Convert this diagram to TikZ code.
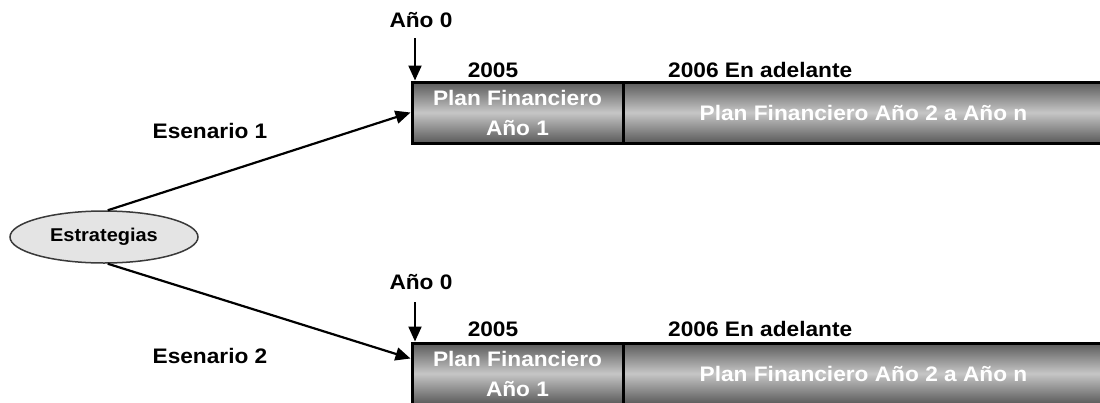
\documentclass[tikz,border=0pt]{standalone}
\usepackage{fontspec}
\newfontfamily\labfont[FakeStretch=1.08]{Liberation Sans}
\usetikzlibrary{arrows.meta,shapes.geometric}
\definecolor{bardark}{HTML}{5A5A5A}
\definecolor{barlight}{HTML}{C6C6C6}
\definecolor{ovalfill}{HTML}{E4E4E4}
\definecolor{ovalline}{HTML}{3A3A3A}
\begin{document}
\begin{tikzpicture}[x=1pt,y=-1pt,
  lab/.style={font=\labfont\bfseries\fontsize{21}{24}\selectfont, text=black, inner sep=0pt},
  bar/.style={draw=black, line width=3pt, rectangle, inner sep=0pt,
    top color=bardark, bottom color=bardark, middle color=barlight,
    text=white, align=center,
    font=\labfont\bfseries\fontsize{21}{30}\selectfont},
  link/.style={line width=2.2pt, -{Triangle[length=15pt,width=13pt]}},
  oval/.style={ellipse, draw=ovalline, line width=1.5pt, fill=ovalfill,
    minimum width=188pt, minimum height=52pt, inner sep=0pt,
    font=\labfont\bfseries\fontsize{18.5}{20}\selectfont}]
\useasboundingbox (0,0) rectangle (1100,402);
\clip (0,0) rectangle (1100,402);
\fill[white] (0,0) rectangle (1100,402);

% origin of both scenarios
\node[oval] (est) at (104,237) {Estrategias};

% scenario 1
\node[bar, minimum width=211pt, minimum height=61pt] (p1) at (517.5,112.5) {Plan Financiero\\Año 1};
\node[bar, minimum width=481pt, minimum height=61pt] (p2) at (863.5,112.5) {Plan Financiero Año 2 a Año n};
\node[lab] (y0a) at (421,20) {Año 0};
\node[lab] (ya5) at (493,70) {2005};
\node[lab, anchor=west] (ya6) at (668,70) {2006 En adelante};
\node[lab] (e1) at (210,131) {Esenario 1};
\coordinate (s1) at (415,38);
\draw[link] (s1) -- (s1 |- p1.north);
\draw[link] (est.82) -- (p1.west);

% scenario 2
\node[bar, minimum width=211pt, minimum height=61pt] (q1) at (517.5,373.5) {Plan Financiero\\Año 1};
\node[bar, minimum width=481pt, minimum height=61pt] (q2) at (863.5,373.5) {Plan Financiero Año 2 a Año n};
\node[lab] (y0b) at (421,282) {Año 0};
\node[lab] (yb5) at (493,329) {2005};
\node[lab, anchor=west] (yb6) at (668,329) {2006 En adelante};
\node[lab] (e2) at (210,356) {Esenario 2};
\coordinate (s2) at (415,302);
\coordinate (t2) at ([yshift=-17pt]q1.north west);
\draw[link] (s2) -- (s2 |- q1.north);
\draw[link] (est.-82) -- (t2);
\end{tikzpicture}
\end{document}
